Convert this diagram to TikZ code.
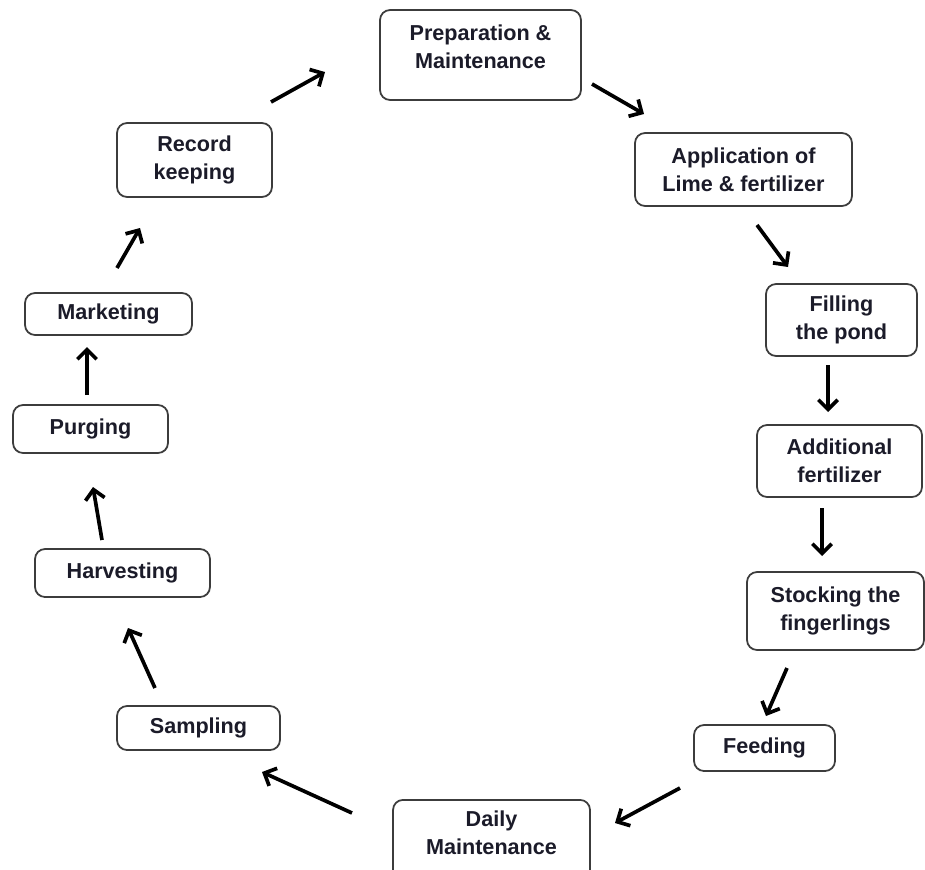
\documentclass[tikz,border=0pt]{standalone}
\usepackage{fontspec}
\setmainfont{Liberation Sans}
\usetikzlibrary{arrows.meta}
\definecolor{ink}{HTML}{1B1B29}
\definecolor{frame}{HTML}{3C3C3C}
\begin{document}
\begin{tikzpicture}[x=0.02cm,y=-0.02cm,
  stagebox/.style={draw=frame, line width=1pt, rounded corners=0.2cm, fill=white, inner sep=0pt,
    text=ink, font=\fontsize{12.3}{15.9}\selectfont\bfseries, align=center},
  stagetext/.style={text=ink, font=\fontsize{12.3}{15.9}\selectfont\bfseries, align=center, inner sep=0pt},
  flow/.style={line width=2.1pt, -{Straight Barb[length=5.5pt,width=11pt,line width=2.1pt]}}]
\useasboundingbox (0,0) rectangle (925,869);
\clip (0,0) rectangle (925,869);

% stages of the pond cycle
\node[stagebox, minimum width=4.02cm, minimum height=1.8cm] (prep) at (480.5,55) {};
\node[stagetext] (preptext) at (480.5,47) {Preparation \&\\Maintenance};
\node[stagebox, minimum width=4.34cm, minimum height=1.46cm] (app) at (743.5,169.5) {Application of\\Lime \& fertilizer};
\node[stagebox, minimum width=3.02cm, minimum height=1.44cm] (fill) at (841.5,320) {Filling\\the pond};
\node[stagebox, minimum width=3.30cm, minimum height=1.44cm] (add) at (839.5,461) {Additional\\fertilizer};
\node[stagebox, minimum width=3.54cm, minimum height=1.56cm] (stock) at (835.5,611) {Stocking the\\fingerlings};
\node[stagebox, minimum width=2.82cm, minimum height=0.92cm] (feed) at (764.5,748) {Feeding};
\node[stagebox, minimum width=3.94cm, minimum height=1.64cm, anchor=north] (daily) at (491.5,799) {};
\node[stagetext] (dailytext) at (491.5,833) {Daily\\Maintenance};
\node[stagebox, minimum width=3.26cm, minimum height=0.88cm] (samp) at (198.5,728) {Sampling};
\node[stagebox, minimum width=3.50cm, minimum height=0.96cm] (harv) at (122.5,573) {Harvesting};
\node[stagebox, minimum width=3.10cm, minimum height=0.96cm] (purg) at (90.5,429) {Purging};
\node[stagebox, minimum width=3.34cm, minimum height=0.84cm] (mark) at (108.5,314) {Marketing};
\node[stagebox, minimum width=3.10cm, minimum height=1.48cm] (rec) at (194.5,160) {Record\\keeping};

% arrow ends between the stages
\coordinate (recOut) at (271,102);   \coordinate (prepIn) at (325,72);
\coordinate (prepOut) at (592,84);   \coordinate (appIn) at (644,114);
\coordinate (appOut) at (757,225);   \coordinate (fillIn) at (788,267);
\coordinate (fillOut) at (828,365);  \coordinate (addIn) at (828,412);
\coordinate (addOut) at (822,508);   \coordinate (stockIn) at (822,556);
\coordinate (stockOut) at (787,668); \coordinate (feedIn) at (766,716);
\coordinate (feedOut) at (680,788);  \coordinate (dailyIn) at (615,823);
\coordinate (dailyOut) at (352,813); \coordinate (sampIn) at (262,772);
\coordinate (sampOut) at (155,688);  \coordinate (harvIn) at (128,628);
\coordinate (harvOut) at (102,540);  \coordinate (purgIn) at (93,487);
\coordinate (purgOut) at (87,395);   \coordinate (markIn) at (87,347);
\coordinate (markOut) at (117,268);  \coordinate (recIn) at (140,228);

\draw[flow] (recOut) -- (prepIn);
\draw[flow] (prepOut) -- (appIn);
\draw[flow] (appOut) -- (fillIn);
\draw[flow] (fillOut) -- (addIn);
\draw[flow] (addOut) -- (stockIn);
\draw[flow] (stockOut) -- (feedIn);
\draw[flow] (feedOut) -- (dailyIn);
\draw[flow] (dailyOut) -- (sampIn);
\draw[flow] (sampOut) -- (harvIn);
\draw[flow] (harvOut) -- (purgIn);
\draw[flow] (purgOut) -- (markIn);
\draw[flow] (markOut) -- (recIn);
\end{tikzpicture}
\end{document}
